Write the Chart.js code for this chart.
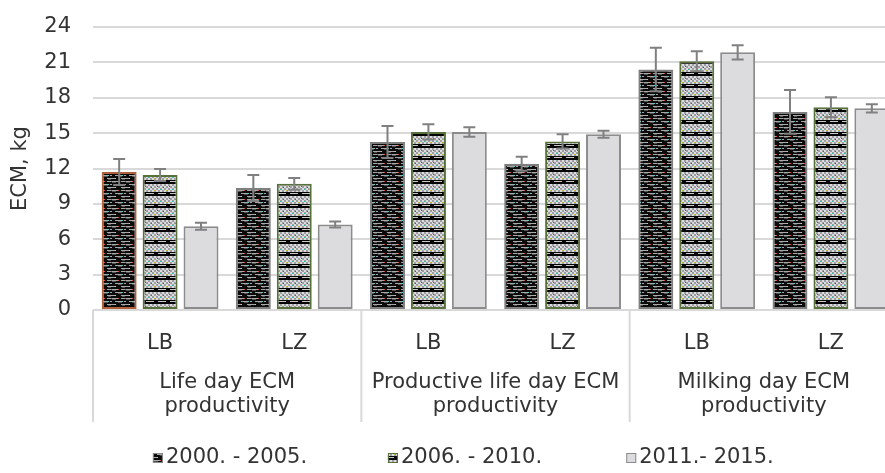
<!DOCTYPE html>
<html>
<head>
<meta charset="utf-8">
<title>ECM productivity</title>
<script src="https://cdn.jsdelivr.net/npm/chart.js@4.4.1/dist/chart.umd.min.js"></script>
<style>
    html, body { margin: 0; padding: 0; background: #fff; overflow: hidden; }
    #wrap { position: relative; width: 930px; height: 473px; }
</style>
</head>
<body>
<div id="wrap"><canvas id="ecmChart"></canvas></div>
<script>
// 数据
const categories = ['LB', 'LZ', 'LB', 'LZ', 'LB', 'LZ'];
const groupLabels = [
    ['Life day ECM', 'productivity'],
    ['Productive life day ECM', 'productivity'],
    ['Milking day ECM', 'productivity']
];
const seriesNames = ['2000. - 2005.', '2006. - 2010.', '2011.- 2015.'];
const values2000 = [11.7, 10.35, 14.25, 12.4, 20.4, 16.8];
const values2006 = [11.45, 10.7, 15.1, 14.3, 21.1, 17.2];
const values2011 = [7.1, 7.25, 15.1, 14.9, 21.85, 17.1];
const errors2000 = [1.1, 1.1, 1.35, 0.6, 1.85, 1.85];
const errors2006 = [0.5, 0.5, 0.65, 0.6, 0.85, 0.85];
const errors2011 = [0.3, 0.25, 0.4, 0.3, 0.6, 0.35];

const FONT = 'DejaVu Sans';
const FSIZE = 21;
const TEXT = '#333333';

// 图案填充
function makePattern(w, h, draw) {
    const c = document.createElement('canvas');
    c.width = w; c.height = h;
    const g = c.getContext('2d');
    draw(g);
    return g.createPattern(c, 'repeat');
}

const darkPattern = makePattern(14, 9, g => {
    g.fillStyle = '#0b0b0b';
    g.fillRect(0, 0, 14, 9);
    g.fillStyle = '#a8a8a8';
    g.fillRect(0, 1, 6, 1); g.fillRect(9, 1, 4, 1);
    g.fillRect(3, 4, 7, 1); g.fillRect(12, 4, 2, 1);
    g.fillRect(9, 7, 5, 1); g.fillRect(0, 7, 3, 1);
    g.fillStyle = '#505050';
    g.fillRect(0, 2, 4, 1); g.fillRect(6, 5, 4, 1); g.fillRect(10, 8, 3, 1);
    g.fillStyle = '#e04848'; g.fillRect(6, 1, 1, 1);
    g.fillStyle = '#48d8d8'; g.fillRect(10, 4, 1, 1);
    g.fillStyle = '#d8d848'; g.fillRect(3, 7, 1, 1);
    g.fillStyle = '#4868f0'; g.fillRect(13, 1, 1, 1);
});

const bandPattern = makePattern(12, 12, g => {
    for (let y = 4; y < 12; y++) {
        for (let x = 0; x < 12; x++) {
            g.fillStyle = ((x >> 1) + (y >> 1)) % 2 ? '#dcdcdc' : '#9c9ca4';
            g.fillRect(x, y, 1, 1);
        }
    }
    g.fillStyle = '#050505';
    g.fillRect(0, 0, 12, 4);
    g.fillStyle = '#c8c8c8';
    g.fillRect(2, 1, 8, 1);
    g.fillStyle = '#e03030'; g.fillRect(1, 6, 1, 1);
    g.fillStyle = '#3050e0'; g.fillRect(7, 7, 1, 1);
    g.fillStyle = '#30c0a0'; g.fillRect(4, 9, 1, 1);
    g.fillStyle = '#c0c030'; g.fillRect(10, 10, 1, 1);
});

// 误差线、分组标签、图例
const ecmExtras = {
    id: 'ecmExtras',
    afterDatasetsDraw(chart) {
        const ctx = chart.ctx;
        const y = chart.scales.y;
        ctx.save();
        ctx.strokeStyle = '#808080';
        ctx.lineWidth = 2;
        chart.data.datasets.forEach((ds, di) => {
            const meta = chart.getDatasetMeta(di);
            meta.data.forEach((bar, i) => {
                const v = ds.data[i], e = ds.errors[i];
                const top = y.getPixelForValue(v + e);
                const bot = y.getPixelForValue(v - e);
                ctx.beginPath();
                ctx.moveTo(bar.x, top); ctx.lineTo(bar.x, bot);
                ctx.moveTo(bar.x - 6, top); ctx.lineTo(bar.x + 6, top);
                ctx.moveTo(bar.x - 6, bot); ctx.lineTo(bar.x + 6, bot);
                ctx.stroke();
            });
        });
        ctx.restore();
    },
    afterDraw(chart) {
        const ctx = chart.ctx;
        const x = chart.scales.x;
        const area = chart.chartArea;
        ctx.save();

        // 分隔线
        ctx.strokeStyle = '#d9d9d9';
        ctx.lineWidth = 2;
        const seps = [area.left];
        for (let g = 1; g < groupLabels.length; g++) {
            seps.push((x.getPixelForValue(2 * g - 1) + x.getPixelForValue(2 * g)) / 2);
        }
        seps.push(area.right);
        seps.forEach(sx => {
            ctx.beginPath();
            ctx.moveTo(sx, area.bottom);
            ctx.lineTo(sx, area.bottom + 112);
            ctx.stroke();
        });

        // 分组标签
        ctx.fillStyle = TEXT;
        ctx.font = FSIZE + 'px "' + FONT + '"';
        ctx.textAlign = 'center';
        ctx.textBaseline = 'middle';
        groupLabels.forEach((lines, g) => {
            const cx = (x.getPixelForValue(2 * g) + x.getPixelForValue(2 * g + 1)) / 2;
            lines.forEach((t, k) => ctx.fillText(t, cx, area.bottom + 73 + k * 24));
        });

        // 图例
        const ly = 458;
        const mid = chart.width / 2;
        ctx.textAlign = 'left';
        chart.data.datasets.forEach((ds, i) => {
            const tw = ctx.measureText(ds.label).width;
            const w = 13 + tw;
            const sx = mid + (i - 1) * 235 - w / 2;
            ctx.fillStyle = ds.backgroundColor;
            ctx.fillRect(sx, ly - 5, 10, 10);
            ctx.strokeStyle = i === 1 ? '#58703a' : '#8c8c8c';
            ctx.lineWidth = 1;
            ctx.strokeRect(sx + 0.5, ly - 4.5, 9, 9);
            ctx.fillStyle = TEXT;
            ctx.fillText(ds.label, sx + 13, ly);
        });
        ctx.restore();
    }
};

const chart = new Chart(document.getElementById('ecmChart'), {
    type: 'bar',
    data: {
        labels: categories,
        datasets: [{
            label: seriesNames[0],
            data: values2000,
            errors: errors2000,
            backgroundColor: darkPattern,
            borderColor: ['#b0603a', '#7f7f7f', '#7f7f7f', '#7f7f7f', '#7f7f7f', '#7f7f7f'],
            borderWidth: 2,
            borderSkipped: false
        }, {
            label: seriesNames[1],
            data: values2006,
            errors: errors2006,
            backgroundColor: bandPattern,
            borderColor: '#58703a',
            borderWidth: 2,
            borderSkipped: false
        }, {
            label: seriesNames[2],
            data: values2011,
            errors: errors2011,
            backgroundColor: '#dcdcdf',
            borderColor: '#8c8c8c',
            borderWidth: 2,
            borderSkipped: false
        }]
    },
    options: {
        responsive: true,
        maintainAspectRatio: false,
        animation: false,
        categoryPercentage: 0.915,
        barPercentage: 0.854,
        layout: { padding: { top: 27, right: 32, left: 0, bottom: 0 } },
        scales: {
            x: {
                grid: { display: false },
                border: { display: false },
                ticks: {
                    color: TEXT,
                    font: { family: FONT, size: FSIZE },
                    padding: 13,
                    maxRotation: 0
                },
                afterFit: s => { s.height = 163; }
            },
            y: {
                min: 0,
                max: 24,
                ticks: {
                    stepSize: 3,
                    color: TEXT,
                    font: { family: FONT, size: FSIZE },
                    padding: 22
                },
                grid: { color: '#d9d9d9', lineWidth: 2, drawTicks: false },
                border: { display: false },
                title: {
                    display: true,
                    text: 'ECM, kg',
                    color: TEXT,
                    font: { family: FONT, size: FSIZE },
                    padding: { top: 8, bottom: 0 }
                },
                // 固定宽度，去掉刻度标签的额外上下留白
                afterFit: s => {
                    s.width = 93;
                    s.paddingTop = 0;
                    s.paddingBottom = 0;
                }
            }
        },
        plugins: {
            legend: { display: false },
            tooltip: { enabled: false }
        }
    },
    plugins: [ecmExtras]
});
</script>
</body>
</html>
